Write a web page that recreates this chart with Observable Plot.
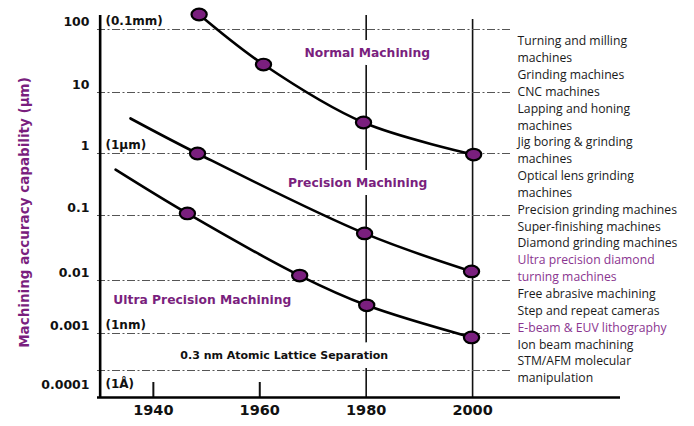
<!DOCTYPE html>
<html><head><meta charset="utf-8">
<script src="https://cdn.jsdelivr.net/npm/d3@7"></script>
<script src="https://cdn.jsdelivr.net/npm/@observablehq/plot@0.6"></script>
<style>body{margin:0;background:#fff} #chart svg{display:block}</style>
</head><body><div id="chart"></div>
<script>
// ---- data ----
const yTickValues = [0.0001, 0.001, 0.01, 0.1, 1, 10, 100];
const yTickLabels = ["0.0001", "0.001", "0.01", "0.1", "1", "10", "100"];
const unitValues = [100, 1, 0.001, 0.0001];
const unitLabels = ["(0.1mm)", "(1µm)", "(1nm)", "(1Å)"];
const gridValues = [100, 10, 1, 0.1, 0.01, 0.001, 0.0003];
const yearTicks = [1940, 1960, 1980, 2000];
const shortTickYears = [1940, 1960];

const normalYear = [1948.6, 1960.7, 1979.5, 2000.2];
const normalAcc = [173, 27.8, 3.22, 0.96];
const precisionYear = [1935.7, 1948.3, 1979.7, 1999.8];
const precisionAcc = [3.75, 1.0, 0.053, 0.0138];
const ultraYear = [1932.9, 1946.4, 1967.5, 1980.1, 1999.8];
const ultraAcc = [0.55, 0.108, 0.0119, 0.0034, 0.00088];
const markerFrom = {normal: 0, precision: 1, ultra: 1};

const regionLabels = ["Normal Machining", "Precision Machining", "Ultra Precision Machining"];
const regionYear = [1980.2, 1978.4, 1949.2];
const regionAcc = [41.7, 0.328, 0.0042];
const latticeLabel = "0.3 nm Atomic Lattice Separation";
const latticeLabelYear = 1964.6;
const latticeLabelAcc = 0.00049;

const machineLines = [
  "Turning and milling", "machines", "Grinding machines", "CNC machines",
  "Lapping and honing", "machines", "Jig boring & grinding", "machines",
  "Optical lens grinding", "machines", "Precision grinding machines",
  "Super-finishing machines", "Diamond grinding machines",
  "Ultra precision diamond", "turning machines", "Free abrasive machining",
  "Step and repeat cameras", "E-beam & EUV lithography", "Ion beam machining",
  "STM/AFM molecular", "manipulation"
];
const highlightedLines = [13, 14, 17];
const yTitle = "Machining accuracy capability (µm)";

// ---- build ----
const lg = v => Math.log10(v);
const mk = (name, years, accs) => years.map((yr, i) => ({series: name, year: yr, acc: accs[i], i}));
const curves = [
  ...mk("normal", normalYear, normalAcc),
  ...mk("precision", precisionYear, precisionAcc),
  ...mk("ultra", ultraYear, ultraAcc)
];
const markers = curves.filter(d => d.i >= markerFrom[d.series]);

const ellipse = {
  draw(ctx) {
    const rx = 7.6, ry = 5.8, k = 0.5523;
    ctx.moveTo(rx, 0);
    ctx.bezierCurveTo(rx, ry * k, rx * k, ry, 0, ry);
    ctx.bezierCurveTo(-rx * k, ry, -rx, ry * k, -rx, 0);
    ctx.bezierCurveTo(-rx, -ry * k, -rx * k, -ry, 0, -ry);
    ctx.bezierCurveTo(rx * k, -ry, rx, -ry * k, rx, 0);
    ctx.closePath();
  }
};

const blackText = machineLines.map((t, i) => highlightedLines.includes(i) ? "" : t).join("\n");
const purpleText = machineLines.map((t, i) => highlightedLines.includes(i) ? t : "").join("\n");

const PURPLE = "#7a1f7e";
const BOLD = "DejaVu Sans";
const yBottom = -4.2;

const chart = Plot.plot({
  width: 694,
  height: 426,
  marginLeft: 97,
  marginRight: 74,
  marginTop: 15,
  marginBottom: 29,
  style: {fontFamily: "Open Sans", background: "white", overflow: "visible"},
  x: {domain: [1929.5, 2027.8], axis: null, label: null},
  y: {
    type: "linear",
    domain: [yBottom, -4, lg(0.0003), -3, -2, -1, 0, 1, 2, 2.222],
    range: [397, 392, 370, 333, 280, 215, 153, 92, 29, 15],
    axis: null
  },
  marks: [
    // vertical rules
    Plot.ruleX([1980], {stroke: "#111", strokeWidth: 1.6}),
    Plot.ruleX([2000], {stroke: "#111", strokeWidth: 1.6, insetTop: 4}),
    Plot.ruleX(shortTickYears, {stroke: "#111", strokeWidth: 2, insetTop: 367}),
    // region labels with white halo
    Plot.text(regionLabels, {
      x: (d, i) => regionYear[i], y: (d, i) => lg(regionAcc[i]), text: d => d,
      fill: PURPLE, stroke: "white", strokeWidth: 16, strokeLinejoin: "round",
      fontFamily: BOLD, fontSize: 12.3, fontWeight: "bold"
    }),
    Plot.text([latticeLabel], {
      x: () => latticeLabelYear, y: () => lg(latticeLabelAcc), text: d => d,
      fill: "#111", stroke: "white", strokeWidth: 18, strokeLinejoin: "round",
      fontFamily: BOLD, fontSize: 11, fontWeight: "bold"
    }),
    // dash-dot grid lines
    Plot.ruleY(gridValues, {
      y: d => lg(d), stroke: "#555", strokeWidth: 1,
      strokeDasharray: "8,2.5,2,2.5", insetRight: 108
    }),
    // axes lines
    Plot.ruleX([1930], {stroke: "#000", strokeWidth: 2.6}),
    Plot.ruleY([yBottom], {stroke: "#000", strokeWidth: 2.6}),
    // y tick labels
    Plot.text(yTickLabels, {
      frameAnchor: "left", y: (d, i) => lg(yTickValues[i]), text: d => d,
      textAnchor: "end", dx: -8, dy: -8, fontFamily: BOLD, fontSize: 12.5, fontWeight: "bold", fill: "#111"
    }),
    Plot.text(unitLabels, {
      frameAnchor: "left", y: (d, i) => lg(unitValues[i]), text: d => d,
      textAnchor: "start", dx: 8, dy: -8, fontFamily: BOLD, fontSize: 12, fontWeight: "bold", fill: "#111"
    }),
    // y title
    Plot.text([yTitle], {
      frameAnchor: "left", textAnchor: "middle", text: d => d, rotate: -90, dx: -73, dy: 6,
      fontFamily: BOLD, fontSize: 13.5, fontWeight: "bold", fill: PURPLE
    }),
    // x tick labels
    Plot.axisX({ticks: yearTicks, tickSize: 0, tickPadding: 7, tickFormat: d => String(d), label: null,
      fontFamily: BOLD, fontSize: 14.5, fontWeight: "bold", fill: "#111"}),
    // curves
    Plot.line(curves, {
      x: "year", y: d => lg(d.acc), z: "series", curve: "catmull-rom",
      stroke: "#000", strokeWidth: 2.6
    }),
    Plot.dot(markers, {
      x: "year", y: d => lg(d.acc), symbol: ellipse, fill: PURPLE, stroke: "#000", strokeWidth: 2.2
    }),
    // right-hand list
    Plot.text([blackText], {
      frameAnchor: "top-right", text: d => d, textAnchor: "start", lineAnchor: "top",
      lineHeight: 1.38, dx: -103, dy: 18, fontSize: 12.2, fill: "#1a1a1a"
    }),
    Plot.text([purpleText], {
      frameAnchor: "top-right", text: d => d, textAnchor: "start", lineAnchor: "top",
      lineHeight: 1.38, dx: -103, dy: 18, fontSize: 12.2, fill: "#8a3590"
    })
  ]
});
document.getElementById("chart").append(chart);
</script>
</body></html>
